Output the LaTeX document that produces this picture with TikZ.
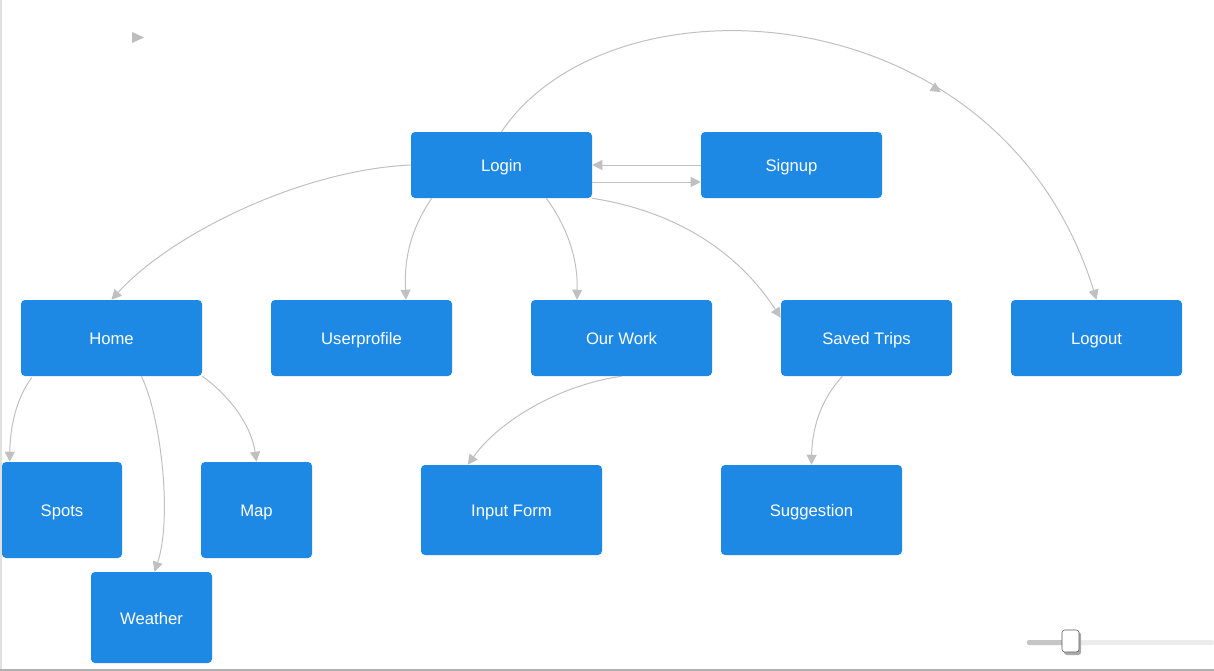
\documentclass[tikz,border=0pt]{standalone}
\usepackage{fontspec}
\setmainfont{Liberation Sans}
\usetikzlibrary{arrows.meta,decorations.markings}
\definecolor{boxblue}{RGB}{30,137,229}
\definecolor{edgegray}{RGB}{192,192,192}

\begin{document}
\begin{tikzpicture}[x=0.75pt,y=0.75pt,yscale=-1,
  box/.style={fill=boxblue,rounded corners=3pt,text=white,inner sep=0pt,text height=12.3pt,text depth=2.5pt,font=\fontsize{12.5}{15}\selectfont},
  wide/.style={minimum width=135.75pt},
  narrow/.style={minimum width=128.25pt},
  link/.style={draw=edgegray,line width=0.75pt,-{Triangle[length=7.5pt,width=7.5pt]}}]
\useasboundingbox (0,0) rectangle (1214,671);

%Frame
\fill [color={rgb, 255:red, 224; green, 224; blue, 224 }] (0,0) rectangle (2,671);
\fill [color={rgb, 255:red, 176; green, 176; blue, 176 }] (0,669) rectangle (1214,671);
\fill [color={rgb, 255:red, 189; green, 189; blue, 189 }] (132,32) -- (144,37.5) -- (132,43) -- cycle;

% Boxes
\node [box,wide,minimum height=49.5pt] (login) at (501.5,165) {Login};
\node [box,wide,minimum height=49.5pt] (signup) at (791.5,165) {Signup};
\node [box,wide,minimum height=57pt] (home) at (111.5,338) {Home};
\node [box,wide,minimum height=57pt] (userprofile) at (361.5,338) {Userprofile};
\node [box,wide,minimum height=57pt] (ourwork) at (621.5,338) {Our Work};
\node [box,narrow,minimum height=57pt] (savedtrips) at (866.5,338) {Saved Trips};
\node [box,narrow,minimum height=57pt] (logout) at (1096.5,338) {Logout};
\node [box,minimum width=90pt,minimum height=72pt] (spots) at (62,510) {Spots};
\node [box,minimum width=83.25pt,minimum height=72pt] (map) at (256.5,510) {Map};
\node [box,minimum width=90.75pt,minimum height=68.25pt] (weather) at (151.5,617.5) {Weather};
\node [box,wide,minimum height=67.5pt] (inputform) at (511.5,510) {Input Form};
\node [box,wide,minimum height=67.5pt] (suggestion) at (811.5,510) {Suggestion};

%Curve Lines
\draw [link,postaction={decorate,decoration={markings,mark=at position 0.645 with {\arrow[edgegray]{Triangle[length=7.5pt,width=7.5pt]}}}}]
  (login.north) .. controls (610,-30) and (1000,-12) .. (logout.north);
\draw [link] (login.west) .. controls (300,170) and (170,235) .. (home.north);
\draw [link] ([xshift=15.75pt]login.south west) .. controls (410,230) and (404,260) .. ([xshift=33.4pt]userprofile.north);
\draw [link] ([xshift=-34.5pt]login.south east) .. controls (568,228) and (578,260) .. ([xshift=-33.4pt]ourwork.north);
\draw [link] (login.south east) .. controls (680,212) and (740,255) .. ([yshift=13.5pt]savedtrips.north west);
\draw [link] (home.south west) ++(8.25pt,1pt) .. controls (15,400) and (10,430) .. ([xshift=6pt]spots.north west);
\draw [link] ([xshift=22.5pt]home.south) .. controls (162,420) and (172,520) .. ([xshift=2.25pt]weather.north);
\draw [link] (home.south east) .. controls (235,400) and (252,430) .. (map.north);
\draw [link] (ourwork.south) .. controls (560,385) and (500,420) .. ([xshift=35.25pt]inputform.north west);
\draw [link] ([xshift=-18pt]savedtrips.south) .. controls (820,400) and (812,430) .. (suggestion.north);

%Straight Lines
\draw [link] (signup.west) -- (login.east);
\draw [link] ([yshift=12.75pt]login.east) -- ([yshift=12.75pt]signup.west);

%Slider
\fill [color={rgb, 255:red, 236; green, 236; blue, 236 }, rounded corners=1.5pt] (1027,640) rectangle (1214,645);
\fill [color={rgb, 255:red, 198; green, 198; blue, 198 }, rounded corners=1.5pt] (1027,640) rectangle (1070,645);
\fill [color={rgb, 255:red, 170; green, 170; blue, 170 }, rounded corners=2pt] (1064,632) rectangle (1081,655);
\draw [fill=white, draw={rgb, 255:red, 90; green, 90; blue, 90 }, rounded corners=2pt] (1062,630) rectangle (1079,652);

\end{tikzpicture}
\end{document}
